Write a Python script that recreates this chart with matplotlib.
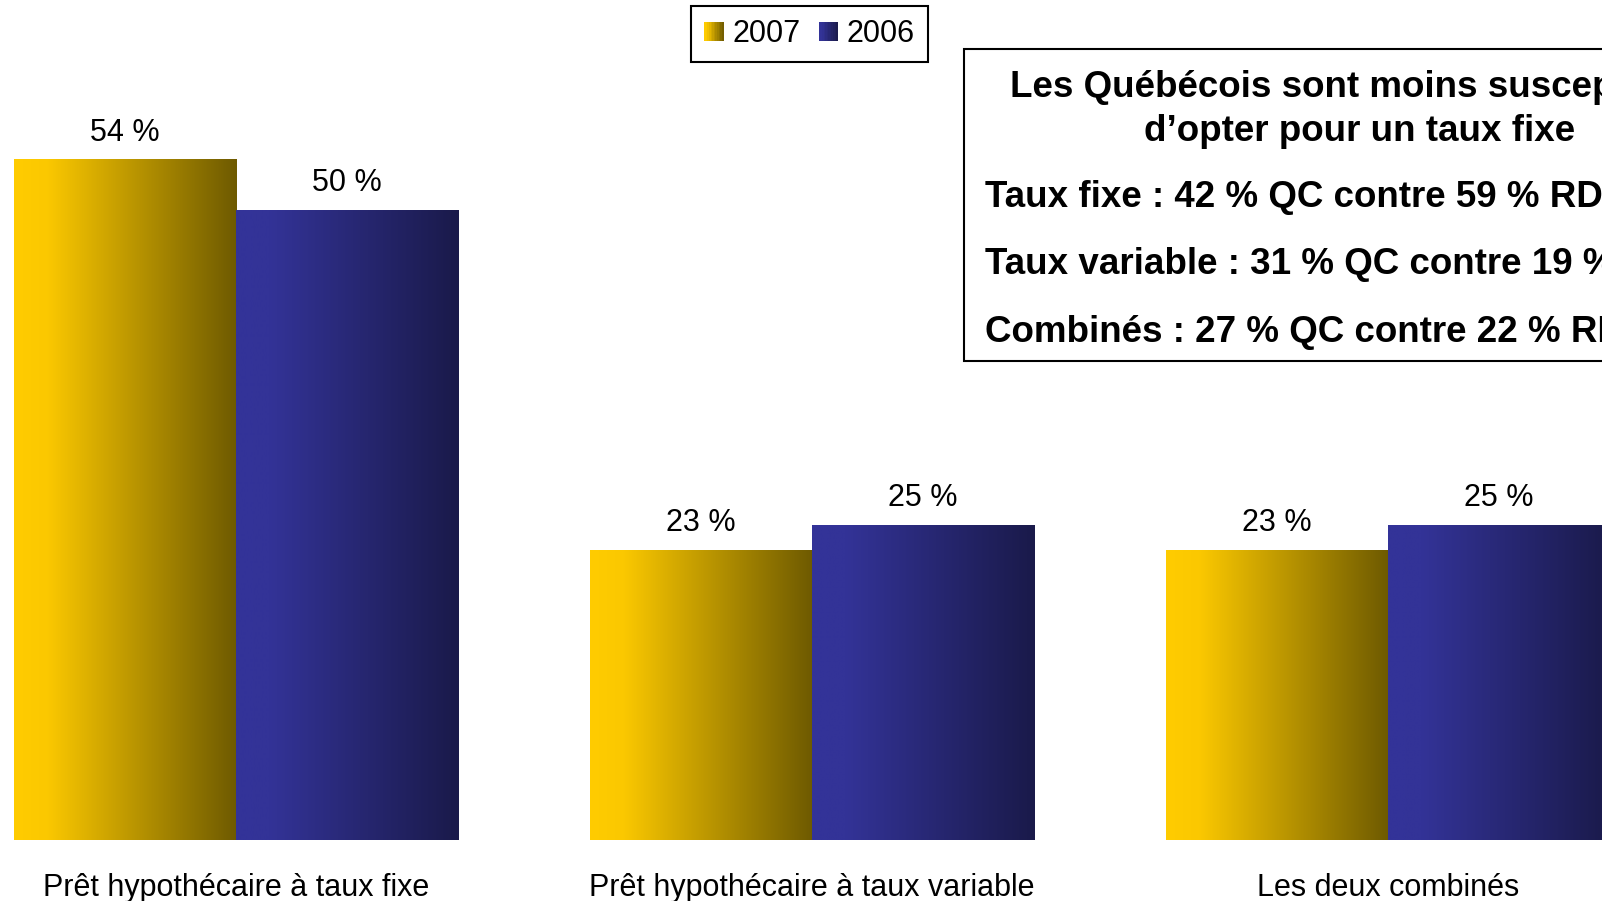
import matplotlib
matplotlib.use("Agg")
import matplotlib.pyplot as plt
import numpy as np
from matplotlib.colors import LinearSegmentedColormap
from matplotlib.legend_handler import HandlerBase
from matplotlib.patches import Rectangle

plt.rcParams['font.family'] = ['Liberation Sans', 'DejaVu Sans']

# Data
categories = ["Prêt hypothécaire à taux fixe", "Prêt hypothécaire à taux variable", "Les deux combinés"]
series_names = ["2007", "2006"]
values_2007 = [54, 23, 23]
values_2006 = [50, 25, 25]

box_title = ["Les Québécois sont moins susceptibles", "d\u2019opter pour un taux fixe"]
box_lines = ["Taux fixe : 42 % QC contre 59 % RDC",
             "Taux variable : 31 % QC contre 19 % RDC",
             "Combinés : 27 % QC contre 22 % RDC"]

# Gradient colours (light on the left, dark on the right)
gold_cmap = LinearSegmentedColormap.from_list("gold", [(0, "#FFCC00"), (0.15, "#FBC800"), (1, "#6E5A00")])
blue_cmap = LinearSegmentedColormap.from_list("blue", [(0, "#333399"), (0.15, "#333397"), (1, "#1A1A4A")])
cmaps = [gold_cmap, blue_cmap]

W, H = 1602, 901
fig = plt.figure(figsize=(W / 100, H / 100), dpi=100)
ax = fig.add_axes([0, 1 - 839.8 / H, 1, 839.8 / H])

grad = np.linspace(0, 1, 256).reshape(1, -1)
width = 0.386
x = np.arange(len(categories))

for k, vals in enumerate([values_2007, values_2006]):
    offset = -width / 2 if k == 0 else width / 2
    bars = ax.bar(x + offset, vals, width, color="none", edgecolor="none")
    for bar, v in zip(bars, vals):
        x0 = bar.get_x()
        im = ax.imshow(grad, extent=[x0, x0 + width, 0, v], aspect="auto",
                       cmap=cmaps[k], interpolation="bilinear", zorder=2)
        im.set_clip_path(bar)
        ax.annotate(f"{v} %", (x0 + width / 2, v), xytext=(0, 13.5), textcoords="offset points",
                    ha="center", va="baseline", fontsize=22)

ax.set_xlim(-236 / 576, (W - 236) / 576)
ax.set_ylim(0, 839.8 / 12.6)
ax.set_xticks(x)
ax.set_xticklabels(categories, fontsize=22)
ax.tick_params(axis="x", length=0, pad=24)
ax.set_yticks([])
for s in ax.spines.values():
    s.set_visible(False)


# Legend with gradient squares
class GradientKey:
    def __init__(self, cmap):
        self.cmap = cmap


class GradientHandler(HandlerBase):
    def create_artists(self, legend, orig_handle, xdescent, ydescent, width, height, fontsize, trans):
        side = min(width, height)
        x0 = -xdescent + (width - side) / 2
        y0 = -ydescent + (height - side) / 2
        n = 12
        arts = []
        for i in range(n):
            r = Rectangle((x0 + side * i / n, y0), side / n + 0.3, side,
                          facecolor=orig_handle.cmap((i + 0.5) / n), edgecolor="none", transform=trans)
            arts.append(r)
        return arts


keys = [GradientKey(c) for c in cmaps]
leg = fig.legend(keys, series_names, handler_map={GradientKey: GradientHandler()},
                 loc="center", bbox_to_anchor=(809.7 / W, 1 - 33.8 / H), ncol=2, fontsize=22,
                 handlelength=0.62, handleheight=0.62, handletextpad=0.3, columnspacing=0.6,
                 borderpad=0.42, fancybox=False, edgecolor="black", framealpha=1)
leg.get_frame().set_linewidth(1.5)

# Text box on the right (cut off by the figure edge)
box_left, box_top, box_bottom = 963.5, 49, 360.7
fig.add_artist(Rectangle((box_left / W, 1 - box_bottom / H), 800 / W, (box_bottom - box_top) / H,
                         transform=fig.transFigure, facecolor="white", edgecolor="black", linewidth=1.5))
for txt, yb in zip(box_title, [97, 141]):
    fig.text(1360 / W, 1 - yb / H, txt, ha="center", va="baseline", fontsize=26.5, fontweight="bold")
for txt, yb in zip(box_lines, [207.3, 274.5, 341.7]):
    fig.text(985 / W, 1 - yb / H, txt, ha="left", va="baseline", fontsize=26.5, fontweight="bold")

fig.savefig("out.png", dpi=100)
